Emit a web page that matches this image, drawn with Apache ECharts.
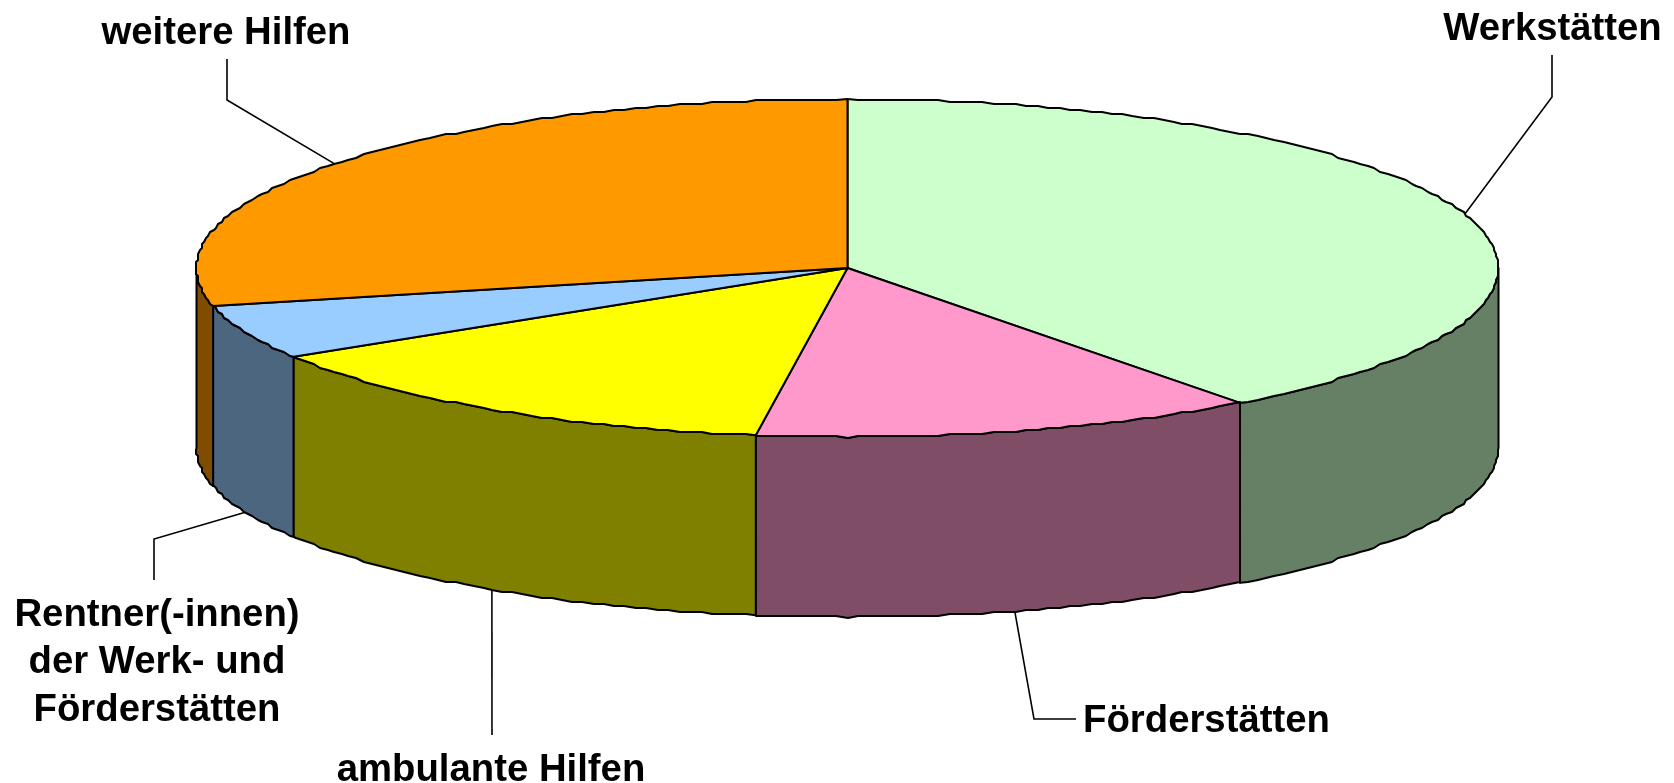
<!DOCTYPE html>
<html>
<head>
<meta charset="utf-8">
<title>Pie</title>
<script src="https://cdn.jsdelivr.net/npm/echarts@6/dist/echarts.min.js"></script>
<style>
  html, body { margin: 0; padding: 0; background: #fff; }
  #chart { width: 1674px; height: 783px; }
</style>
</head>
<body>
<div id="chart"></div>
<script>
// values, in percent
const categories = ["Werkstätten", "Förderstätten", "ambulante Hilfen", "Rentner(-innen)\nder Werk- und\nFörderstätten", "weitere Hilfen"]
const values = [39.7, 12.55, 13.95, 5.2, 28.6]

const topColors = ["#CCFFCC", "#FF99CC", "#FFFF00", "#99CCFF", "#FF9900"]
const wallColors = ["#668066", "#804D66", "#808000", "#4D6680", "#804D00"]

// pie layout
const cx = 847.5
const cy = 268
const rx = 651
const ry = 169
const depth = 180
const snap = 2 // the outline in the original is slightly stepped

// label text centre and leader line bend, per category
const labelCenters = [[1552.5, 29], [1206.5, 721], [491, 770], [157, 662.5], [226, 33]]
const leaderBends = [
  [[1552, 97], [1552, 55]],
  [[1034, 719], [1076, 719]],
  [[492, 735]],
  [[154, 539], [154, 580]],
  [[227, 100], [227, 59]],
]
// leaders of these slices start on the lower edge of the wall
const leaderOnWall = [false, true, true, true, false]
// small correction of the leader start, in degrees from the slice middle
const leaderNudge = [0, -0.4, -0.1, 0, -0.5]

const total = values.reduce((a, b) => a + b, 0)
const startAngles = []
values.reduce((sum, v, i) => {
  startAngles[i] = (sum / total) * 360
  return sum + v
}, 0)
const endAngle = (i) => startAngles[i] + (values[i] / total) * 360

const onEllipse = (deg, dy = 0) => {
  const t = (deg * Math.PI) / 180
  return [cx + rx * Math.sin(t), cy - ry * Math.cos(t) + dy]
}
const stepped = (p) => [Math.round(p[0] / snap) * snap, Math.round(p[1] / snap) * snap]

const arc = (from, to, dy = 0) => {
  const pts = [onEllipse(from)]
  for (let d = Math.ceil(from); d < to; d++) {
    if (d > from) pts.push(stepped(onEllipse(d)))
  }
  pts.push(onEllipse(to))
  return pts.map((p) => [p[0], p[1] + dy])
}

const lineStyle = { stroke: "#000", lineWidth: 2, lineJoin: "round" }

const renderWall = (params) => {
  const i = params.dataIndex
  const from = Math.max(startAngles[i], 90)
  const to = Math.min(endAngle(i), 270)
  if (from >= to) return { type: "group", children: [] }
  const points = arc(from, to).concat(arc(from, to, depth).reverse())
  return {
    type: "polygon",
    shape: { points },
    style: { fill: wallColors[i], ...lineStyle },
  }
}

const renderTop = (params) => {
  const i = params.dataIndex
  const points = [[cx, cy]].concat(arc(startAngles[i], endAngle(i)))
  return {
    type: "polygon",
    shape: { points },
    style: { fill: topColors[i], ...lineStyle },
  }
}

const renderLabel = (params) => {
  const i = params.dataIndex
  const mid = (startAngles[i] + endAngle(i)) / 2 + leaderNudge[i]
  const start = onEllipse(mid, leaderOnWall[i] ? depth : 0)
  return {
    type: "group",
    children: [
      {
        type: "polyline",
        shape: { points: [start].concat(leaderBends[i]) },
        style: { fill: "none", stroke: "#000", lineWidth: 1.6 },
      },
      {
        type: "text",
        style: {
          x: labelCenters[i][0],
          y: labelCenters[i][1],
          text: categories[i],
          fill: "#000",
          font: "bold 38.3px 'Liberation Sans', Arial, sans-serif",
          lineHeight: 47.5,
          align: "center",
          verticalAlign: "middle",
        },
      },
    ],
  }
}

const chart = echarts.init(document.getElementById("chart"))
chart.setOption({
  animation: false,
  backgroundColor: "#fff",
  series: [
    { type: "custom", coordinateSystem: "none", silent: true, z: 1, data: values, renderItem: renderWall },
    { type: "custom", coordinateSystem: "none", silent: true, z: 2, data: values, renderItem: renderTop },
    { type: "custom", coordinateSystem: "none", silent: true, z: 0, data: values, renderItem: renderLabel },
  ],
})
window.addEventListener("resize", () => chart.resize())
</script>
</body>
</html>
